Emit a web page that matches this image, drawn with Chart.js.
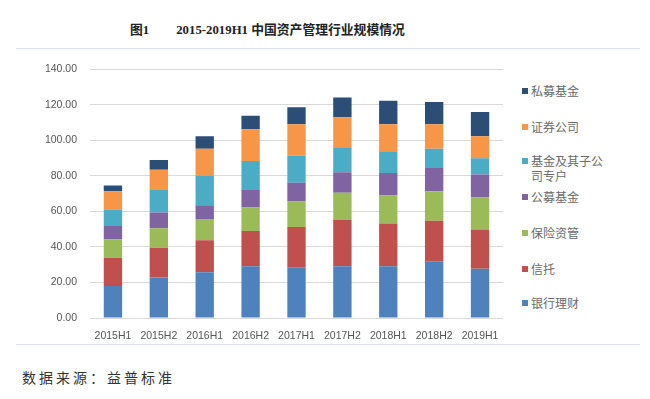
<!DOCTYPE html>
<html>
<head>
<meta charset="utf-8">
<script src="https://cdn.jsdelivr.net/npm/chart.js@4/dist/chart.umd.min.js"></script>
<style>
  body { margin: 0; width: 650px; height: 399px; background: #fff; position: relative; overflow: hidden; }
  .title { position: absolute; top: 19px; left: 130px; font-family: "Liberation Serif", "Noto Sans CJK SC", serif; font-weight: bold; font-size: 12.8px; color: #222; white-space: nowrap; }
  .title .num { margin-right: 27px; }
  .rule { position: absolute; left: 16px; width: 624px; height: 1px; background: #dde1f2; }
  #wrap { position: absolute; left: 0; top: 50px; width: 510px; height: 290px; }
  .legend { position: absolute; left: 522px; font-family: "Noto Sans CJK SC", sans-serif; font-size: 12px; color: #6a6a6a; }
  .legend .item { position: absolute; left: 0; width: 110px; }
  .legend .sw { position: absolute; left: 0; top: 5px; width: 6px; height: 6px; }
  .legend .tx { position: absolute; left: 9px; width: 76px; line-height: 15px; }
  .source { position: absolute; left: 22px; top: 367px; font-family: "Noto Sans CJK SC", serif; font-size: 14px; letter-spacing: 3px; color: #333; }
</style>
</head>
<body>
<div class="title"><span class="num">图1</span>2015-2019H1 中国资产管理行业规模情况</div>
<div class="rule" style="top:48px"></div>
<div id="wrap"><canvas id="chart"></canvas></div>
<div class="legend" id="legend"></div>
<div class="rule" style="top:344px"></div>
<div class="source">数据来源：益普标准</div>
<script>
const categories = ["2015H1", "2015H2", "2016H1", "2016H2", "2017H1", "2017H2", "2018H1", "2018H2", "2019H1"];
const seriesNames = ["银行理财", "信托", "保险资管", "公募基金", "基金及其子公司专户", "证券公司", "私募基金"];
const bankWealth = [18.0, 22.8, 25.7, 29.2, 28.3, 29.2, 29.2, 31.9, 27.7];
const trust = [15.9, 16.8, 18.0, 19.8, 22.9, 26.0, 24.0, 22.8, 22.1];
const insurance = [10.4, 10.9, 12.1, 13.2, 14.4, 15.3, 15.7, 16.6, 18.0];
const publicFunds = [7.5, 8.9, 7.6, 9.8, 10.6, 11.5, 12.7, 13.1, 13.0];
const fundAccounts = [9.3, 12.6, 16.8, 16.4, 15.1, 14.1, 12.3, 10.9, 9.1];
const securities = [10.2, 11.5, 15.1, 17.9, 17.7, 16.9, 15.1, 13.7, 12.4];
const privateFunds = [3.3, 5.5, 7.0, 7.6, 9.7, 11.1, 13.3, 12.6, 13.6];
const colors = ["#4F81BD", "#C0504D", "#9BBB59", "#8064A2", "#4BACC6", "#F79646", "#2C4D75"];

const values = [bankWealth, trust, insurance, publicFunds, fundAccounts, securities, privateFunds];

const datasets = values.map((v, i) => ({
  label: seriesNames[i],
  data: v,
  backgroundColor: colors[i],
  borderWidth: 0,
  barPercentage: 0.4,
  categoryPercentage: 1
}));

const tickFont = { family: "Liberation Sans", size: 10.5 };

new Chart(document.getElementById("chart"), {
  type: "bar",
  data: { labels: categories, datasets },
  options: {
    responsive: true,
    maintainAspectRatio: false,
    animation: false,
    layout: { padding: { top: 12, right: 7, left: 0, bottom: 0 } },
    plugins: { legend: { display: false }, tooltip: { enabled: false } },
    scales: {
      x: {
        stacked: true,
        grid: { display: false },
        border: { display: false },
        ticks: { color: "#555", font: tickFont, maxRotation: 0, padding: 4 },
        afterFit: s => { s.height = 22; }
      },
      y: {
        stacked: true,
        min: 0,
        max: 140,
        grid: { color: "#d9d9d9", drawTicks: false },
        border: { display: false },
        ticks: {
          stepSize: 20,
          color: "#555",
          font: tickFont,
          padding: 13,
          callback: v => v.toFixed(2)
        },
        afterFit: s => { s.width = 90; }
      }
    }
  }
});

// legend, top item first as in the original
const legendTops = [83, 119, 153, 189, 225, 261, 295];
const legendEl = document.getElementById("legend");
seriesNames.slice().reverse().forEach((name, i) => {
  const c = colors[seriesNames.length - 1 - i];
  const item = document.createElement("div");
  item.className = "item";
  item.style.top = legendTops[i] + "px";
  item.innerHTML = `<span class="sw" style="background:${c}"></span><span class="tx">${name}</span>`;
  legendEl.appendChild(item);
});
</script>
</body>
</html>
